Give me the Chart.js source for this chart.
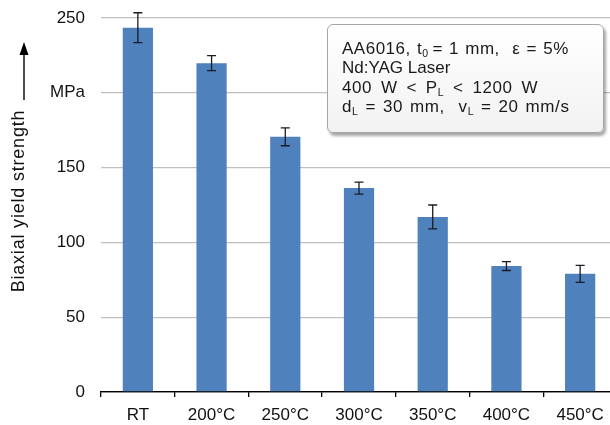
<!DOCTYPE html>
<html><head><meta charset="utf-8">
<script src="https://cdn.jsdelivr.net/npm/chart.js@4.4.1/dist/chart.umd.min.js"></script>
<style>
html,body{margin:0;padding:0;background:#fff;overflow:hidden;width:610px;height:425px;}
#wrap{position:relative;width:617px;height:425px;}
#note{position:absolute;left:327px;top:24px;width:277px;height:109px;box-sizing:border-box;
border:1px solid #a6a6a6;border-radius:6px;background:linear-gradient(#ffffff,#f2f2f2);
box-shadow:2px 3px 3px rgba(0,0,0,0.35);font-family:"Liberation Sans",Arial,sans-serif;
font-size:17px;color:#1a1a1a;padding:13.5px 0 0 14px;line-height:19.5px;white-space:nowrap;}
#note div{height:19.5px;}
#note sub{font-size:10.5px;vertical-align:-3px;line-height:0;}
</style></head>
<body>
<div id="wrap"><canvas id="c" width="617" height="425"></canvas>
<div id="note"><div style="letter-spacing:0.5px;word-spacing:1px">AA6016, t<sub>0</sub>&#8201;= 1 mm,&nbsp; ε = 5%</div><div>Nd:YAG Laser</div><div style="letter-spacing:0.6px;word-spacing:3.5px">400 W &lt; P<sub>L</sub> &lt; 1200 W</div><div style="letter-spacing:0.6px;word-spacing:1.6px">d<sub>L</sub> = 30 mm,&nbsp; v<sub>L</sub> = 20 mm/s</div></div>
</div>
<script>
const categories = ['RT','200°C','250°C','300°C','350°C','400°C','450°C'];
const strength = [243.5, 219.8, 170.6, 136.3, 117.0, 84.2, 79.0];
const errors = [10, 5, 6, 4, 8, 3, 5.7];
const yTicks = [0, 50, 100, 150, 200, 250];
const yTickText = ['0', '50', '100', '150', 'MPa', '250'];
const yTitle = 'Biaxial yield strength';

const FONT = '"Liberation Sans", Arial, sans-serif';

const errorBars = {
  id: 'errorBars',
  afterDatasetsDraw(chart) {
    const ctx = chart.ctx, meta = chart.getDatasetMeta(0), y = chart.scales.y;
    ctx.save();
    ctx.strokeStyle = '#1b1b25';
    ctx.lineWidth = 1.3;
    meta.data.forEach((bar, i) => {
      const x = bar.x;
      const top = y.getPixelForValue(strength[i] + errors[i]);
      const bot = y.getPixelForValue(strength[i] - errors[i]);
      ctx.beginPath();
      ctx.moveTo(x, top); ctx.lineTo(x, bot);
      ctx.moveTo(x - 4.5, top); ctx.lineTo(x + 4.5, top);
      ctx.moveTo(x - 4.5, bot); ctx.lineTo(x + 4.5, bot);
      ctx.stroke();
    });
    ctx.restore();
  }
};

const yLabelArrow = {
  id: 'yLabelArrow',
  afterDraw(chart) {
    const ctx = chart.ctx;
    ctx.save();
    ctx.fillStyle = '#111';
    ctx.font = '18px ' + FONT;
    try { ctx.letterSpacing = '0.8px'; } catch (e) {}
    ctx.translate(19, 201);
    ctx.rotate(-Math.PI / 2);
    ctx.textAlign = 'center';
    ctx.textBaseline = 'middle';
    ctx.fillText(yTitle, 0, 0);
    ctx.restore();
    ctx.save();
    ctx.strokeStyle = '#000'; ctx.fillStyle = '#000'; ctx.lineWidth = 1.4;
    ctx.beginPath(); ctx.moveTo(24, 100); ctx.lineTo(24, 53); ctx.stroke();
    ctx.beginPath(); ctx.moveTo(24, 42); ctx.lineTo(19.5, 55); ctx.lineTo(28.5, 55); ctx.closePath(); ctx.fill();
    ctx.restore();
  }
};

new Chart(document.getElementById('c'), {
  type: 'bar',
  data: {
    labels: categories,
    datasets: [{
      data: strength,
      backgroundColor: '#4f81bd',
      borderWidth: 0,
      categoryPercentage: 1,
      barPercentage: 0.41
    }]
  },
  options: {
    responsive: false,
    animation: false,
    layout: { padding: 0 },
    plugins: { legend: { display: false }, tooltip: { enabled: false } },
    scales: {
      x: {
        grid: { drawOnChartArea: false, drawTicks: true, tickLength: 5, color: '#000', lineWidth: 1.3 },
        border: { display: true, color: '#000', width: 1.3 },
        ticks: { color: '#111', font: { family: FONT, size: 17 }, padding: 8, maxRotation: 0 },
        afterFit(s) { s.height = 33; s.paddingLeft = 0; s.paddingRight = 0; }
      },
      y: {
        min: 0, max: 250,
        afterBuildTicks(s) { s.ticks = yTicks.map(v => ({ value: v })); },
        grid: {
          color: c => c.tick && c.tick.value === 0 ? '#000' : '#bfbfbf',
          lineWidth: 1.3,
          drawTicks: false
        },
        border: { display: false },
        ticks: {
          color: '#111', font: { family: FONT, size: 17 }, padding: 16,
          callback: (v) => { const i = yTicks.indexOf(v); return i >= 0 ? yTickText[i] : ''; }
        },
        afterFit(s) { s.width = 101; s.paddingTop = 18; s.paddingBottom = 0; }
      }
    }
  },
  plugins: [errorBars, yLabelArrow]
});
</script>
</body></html>
